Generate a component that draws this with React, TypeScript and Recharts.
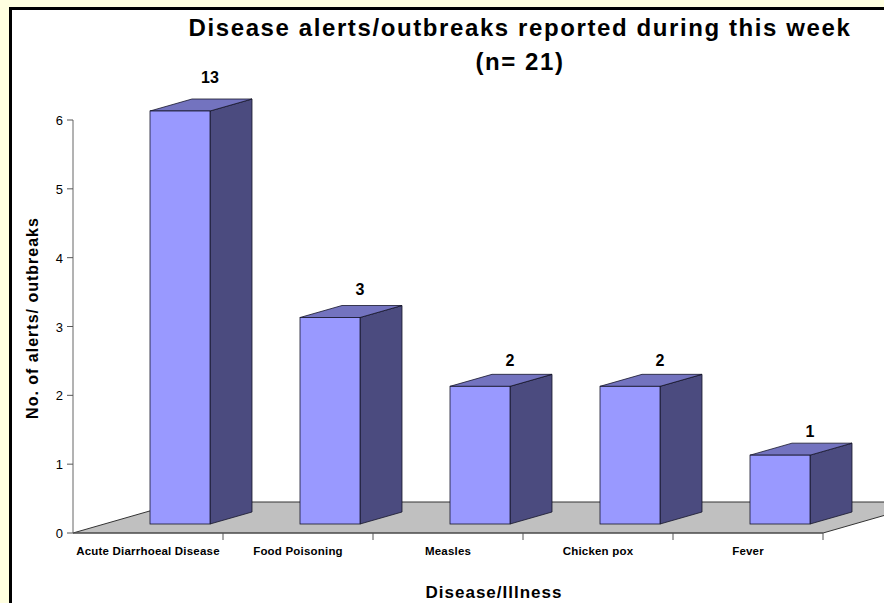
import { BarChart, Bar, XAxis, YAxis, ReferenceArea } from "recharts";

const categories = [
  "Acute Diarrhoeal Disease",
  "Food Poisoning",
  "Measles",
  "Chicken pox",
  "Fever",
];
const alerts = [13, 3, 2, 2, 1];
const yTicks = [0, 1, 2, 3, 4, 5, 6];
const Y_MAX = 6;

const data = categories.map((name, i) => ({ name, count: alerts[i] }));

// 3D look, roughly what the old spreadsheet chart did
const FACE_SHIFT_X = 32;
const FACE_SHIFT_Y = 9;
const DEPTH_X = 42;
const DEPTH_Y = 12;
const FLOOR_X = 108;
const FLOOR_Y = 31;

function Box3D(props: any) {
  const { x, y, width, height, payload } = props;
  const fx = x + FACE_SHIFT_X;
  const fy = y - FACE_SHIFT_Y;
  const right = fx + width;
  const bottom = fy + height;
  const labelGap = 4 + height * 0.03;
  return (
    <g>
      <polygon
        points={`${right},${fy} ${right + DEPTH_X},${fy - DEPTH_Y} ${right + DEPTH_X},${bottom - DEPTH_Y} ${right},${bottom}`}
        fill="#4b4b7f"
        stroke="#15152a"
        strokeWidth={0.8}
      />
      <polygon
        points={`${fx},${fy} ${fx + DEPTH_X},${fy - DEPTH_Y} ${right + DEPTH_X},${fy - DEPTH_Y} ${right},${fy}`}
        fill="#7373bf"
        stroke="#15152a"
        strokeWidth={0.8}
      />
      <rect x={fx} y={fy} width={width} height={height} fill="#9999ff" stroke="#15152a" strokeWidth={0.8} />
      <text
        x={fx + width / 2 + 30}
        y={fy - DEPTH_Y - labelGap}
        textAnchor="middle"
        fontSize={16}
        fontWeight="bold"
        fill="#000"
      >
        {payload.count}
      </text>
    </g>
  );
}

function Floor(props: any) {
  const { x, y, width, height } = props;
  const b = y + height;
  return (
    <polygon
      points={`${x},${b} ${x + width},${b} ${x + width + FLOOR_X},${b - FLOOR_Y} ${x + FLOOR_X},${b - FLOOR_Y}`}
      fill="#c0c0c0"
      stroke="#333"
      strokeWidth={1}
    />
  );
}

function CategoryTick(props: any) {
  const { x, y, payload } = props;
  const half = payload.offset ?? 75;
  return (
    <g>
      <line x1={x + half} x2={x + half} y1={y} y2={y + 7} stroke="#555" />
      <text
        x={x}
        y={y + 22}
        textAnchor="middle"
        fontSize={11.5}
        fontWeight="bold"
        letterSpacing={0.2}
        fill="#000"
      >
        {payload.value}
      </text>
    </g>
  );
}

function CountTick(props: any) {
  const { x, y, payload } = props;
  return (
    <text x={x} y={y + 5} textAnchor="end" fontSize={13} fill="#000">
      {payload.value}
    </text>
  );
}

export default function App() {
  return (
    <div
      style={{
        position: "absolute",
        left: 0,
        top: 0,
        width: 884,
        height: 603,
        overflow: "hidden",
        background: "#ffffe0",
        fontFamily: "'Liberation Sans', Arial, sans-serif",
      }}
    >
      <div
        style={{
          position: "absolute",
          left: 9,
          top: 7,
          width: 890,
          height: 610,
          border: "3px solid #000",
          background: "#fff",
        }}
      />
      <div style={{ position: "absolute", left: 0, top: 0 }}>
        <BarChart
          width={884}
          height={603}
          data={data}
          margin={{ top: 120, right: 61, bottom: 40, left: 33 }}
        >
          <XAxis
            dataKey="name"
            interval={0}
            height={30}
            tickSize={0}
            tickMargin={0}
            tickLine={false}
            axisLine={{ stroke: "#555" }}
            tick={<CategoryTick />}
          />
          <YAxis
            width={40}
            domain={[0, Y_MAX]}
            ticks={yTicks}
            tickSize={6}
            tickMargin={4}
            axisLine={{ stroke: "#666" }}
            tickLine={{ stroke: "#555" }}
            tick={<CountTick />}
          />
          <ReferenceArea
            x1={categories[0]}
            x2={categories[categories.length - 1]}
            y1={0}
            y2={Y_MAX}
            shape={<Floor />}
          />
          <Bar
            dataKey={(d: any) => Math.min(d.count, Y_MAX)}
            barSize={60}
            shape={<Box3D />}
            isAnimationActive={false}
          />
        </BarChart>
      </div>
      <div
        style={{
          position: "absolute",
          left: 0,
          width: 1040,
          top: 11,
          textAlign: "center",
          fontSize: 24,
          fontWeight: "bold",
          letterSpacing: 1.6,
          lineHeight: "34px",
        }}
      >
        Disease alerts/outbreaks reported during this week
        <br />
        (n= 21)
      </div>
      <div
        style={{
          position: "absolute",
          left: 33,
          top: 318,
          transform: "translate(-50%, -50%) rotate(-90deg)",
          whiteSpace: "nowrap",
          fontSize: 16,
          fontWeight: "bold",
          letterSpacing: 1,
        }}
      >
        No. of alerts/ outbreaks
      </div>
      <div
        style={{
          position: "absolute",
          left: 494,
          top: 593,
          transform: "translate(-50%, -50%)",
          whiteSpace: "nowrap",
          fontSize: 17,
          fontWeight: "bold",
          letterSpacing: 1,
          lineHeight: "18px",
        }}
      >
        Disease/Illness
      </div>
    </div>
  );
}
